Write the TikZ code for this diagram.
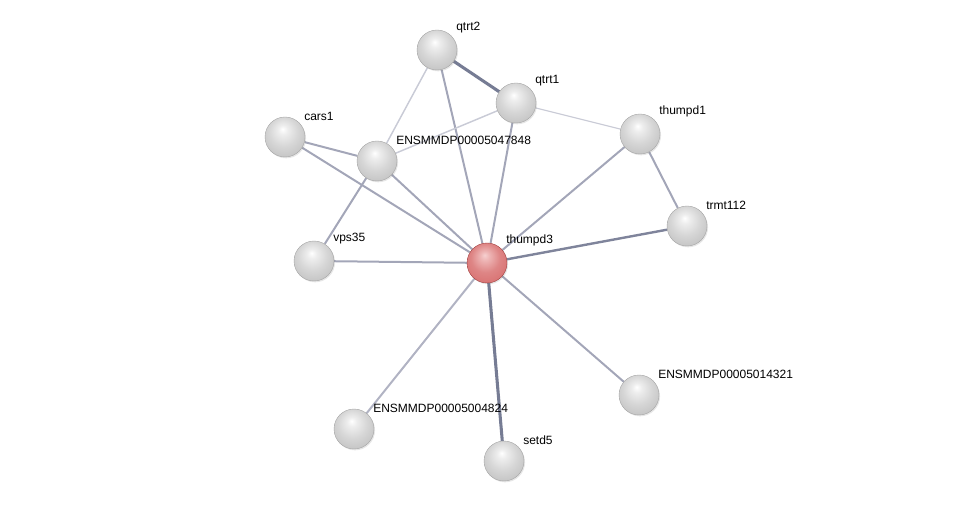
\documentclass[tikz,border=0pt]{standalone}
\usepackage{fontspec}
\setmainfont{Liberation Sans}
\usetikzlibrary{backgrounds,shadows}

\definecolor{lightedge}{HTML}{C9CBD6}
\definecolor{midedge}{HTML}{A3A6B8}
\definecolor{darkedge}{HTML}{767C94}
\definecolor{redtop}{HTML}{F6D0D0}
\definecolor{redbody}{HTML}{D87070}
\definecolor{redrim}{HTML}{A04040}

\pgfdeclareradialshading{greyball}{\pgfpoint{-3bp}{10bp}}{%
    color(0bp)=(white); color(6bp)=(white!93!black); color(18bp)=(white!84!black);
    color(32bp)=(white!76!black); color(42bp)=(white!62!black); color(50bp)=(white!45!black)}
\pgfdeclareradialshading{redball}{\pgfpoint{-3bp}{10bp}}{%
    color(0bp)=(redtop); color(6bp)=(redtop!70!redbody); color(18bp)=(redbody!85!white);
    color(32bp)=(redbody); color(42bp)=(redbody!70!redrim); color(50bp)=(redrim)}

\begin{document}
\begin{tikzpicture}[x=0.75pt, y=-0.75pt, thick,
        main/.style = {circle, minimum size=30pt, inner sep=0pt, shading=greyball,
                       draw=gray!70, line width=0.3pt,
                       drop shadow={opacity=0.2, shadow xshift=0.8pt, shadow yshift=-1pt}},
        hub/.style = {main, shading=redball, draw=redrim},
        lbl/.style = {font=\fontsize{9}{11}\selectfont, yshift=-2pt},
        weak/.style = {draw=lightedge, line width=1.1pt},
        mid/.style = {draw=midedge, line width=1.5pt},
        strong/.style = {draw=darkedge, line width=2.3pt}]
    \useasboundingbox (0,0) rectangle (976,506);

    \node[main, label={[lbl]above right:qtrt2}] (1) at (437,50) {};
    \node[main, label={[lbl]above right:qtrt1}] (2) at (516,103) {};
    \node[main, label={[lbl]above right:thumpd1}] (3) at (640,134) {};
    \node[main, label={[lbl]above right:cars1}] (4) at (285,137) {};
    \node[main, label={[lbl]above right:ENSMMDP00005047848}] (5) at (377,161) {};
    \node[main, label={[lbl]above right:trmt112}] (6) at (687,226) {};
    \node[main, label={[lbl]above right:vps35}] (7) at (314,261) {};
    \node[hub, label={[lbl]above right:thumpd3}] (8) at (487,263) {};
    \node[main, label={[lbl]above right:ENSMMDP00005014321}] (9) at (639,395) {};
    \node[main, label={[lbl]above right:ENSMMDP00005004824}] (10) at (354,429) {};
    \node[main, label={[lbl]above right:setd5}] (11) at (504,461) {};

    \begin{scope}[on background layer]
        \draw[strong] (1) -- (2);
        \draw[weak] (1) -- (5);
        \draw[mid] (1) -- (8);
        \draw[weak] (2) -- (5);
        \draw[weak, line width=0.9pt] (2) -- (3);
        \draw[mid] (2) -- (8);
        \draw[mid] (3) -- (8);
        \draw[mid] (3) -- (6);
        \draw[mid, line width=1.8pt, draw=darkedge!80!midedge] (6) -- (8);
        \draw[mid] (4) -- (5);
        \draw[mid] (4) -- (8);
        \draw[mid] (5) -- (8);
        \draw[mid] (5) -- (7);
        \draw[mid] (7) -- (8);
        \draw[mid] (8) -- (9);
        \draw[mid, draw=midedge!85] (8) -- (10);
        \draw[strong] (8) -- (11);
    \end{scope}
\end{tikzpicture}
\end{document}
